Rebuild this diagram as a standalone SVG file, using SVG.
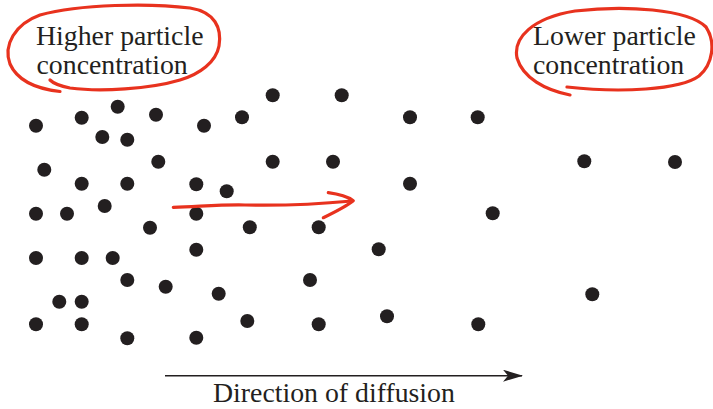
<svg xmlns="http://www.w3.org/2000/svg" width="713" height="409" viewBox="0 0 713 409">
<style>
.t{font-family:"Liberation Serif","Times New Roman",serif;font-size:27.8px;fill:#231f20}
.d{fill:#231f20}
.red{fill:none;stroke:#e8321e;stroke-width:3.2;stroke-linecap:round;stroke-linejoin:round}
</style>
<defs>
<marker id="ah" viewBox="0 0 20 12" refX="19" refY="6" markerWidth="20" markerHeight="12" markerUnits="userSpaceOnUse" orient="auto">
<path d="M0 0 L20 6 L0 12 L5 6 Z" fill="#231f20"/>
</marker>
</defs>
<rect width="713" height="409" fill="#fff"/>
<g id="label-high">
<text class="t" x="36" y="45">Higher particle</text>
<text class="t" x="36.5" y="74">concentration</text>
</g>
<g id="label-low">
<text class="t" x="533" y="45">Lower particle</text>
<text class="t" x="533" y="74">concentration</text>
</g>
<g id="label-direction">
<text class="t" x="213" y="402">Direction of diffusion</text>
</g>
<g id="particles" class="d">
<circle cx="36" cy="125.7" r="7"/>
<circle cx="81.7" cy="117.7" r="7"/>
<circle cx="117.7" cy="106.7" r="7"/>
<circle cx="156" cy="114.7" r="7"/>
<circle cx="204" cy="125.7" r="7"/>
<circle cx="242" cy="117.3" r="7"/>
<circle cx="102.3" cy="137" r="7"/>
<circle cx="127.3" cy="139.7" r="7"/>
<circle cx="44.3" cy="169.7" r="7"/>
<circle cx="158.3" cy="161.7" r="7"/>
<circle cx="81.7" cy="183.7" r="7"/>
<circle cx="127.3" cy="183.7" r="7"/>
<circle cx="196.3" cy="184.3" r="7"/>
<circle cx="226.7" cy="191.3" r="7"/>
<circle cx="36" cy="213.7" r="7"/>
<circle cx="67" cy="213.7" r="7"/>
<circle cx="104.7" cy="206" r="7"/>
<circle cx="196.3" cy="213.7" r="7"/>
<circle cx="150" cy="227.7" r="7"/>
<circle cx="249.8" cy="227.3" r="7"/>
<circle cx="36" cy="258" r="7"/>
<circle cx="81.7" cy="258" r="7"/>
<circle cx="112.7" cy="258" r="7"/>
<circle cx="196.3" cy="249.7" r="7"/>
<circle cx="127.3" cy="280" r="7"/>
<circle cx="165.7" cy="286.7" r="7"/>
<circle cx="218.7" cy="293.7" r="7"/>
<circle cx="59.3" cy="301.7" r="7"/>
<circle cx="81.7" cy="301.7" r="7"/>
<circle cx="36" cy="324.3" r="7"/>
<circle cx="81.7" cy="324.3" r="7"/>
<circle cx="127.3" cy="338.3" r="7"/>
<circle cx="196.3" cy="337.7" r="7"/>
<circle cx="247.3" cy="321" r="7"/>
<circle cx="272.7" cy="95.3" r="7"/>
<circle cx="341.7" cy="95.3" r="7"/>
<circle cx="410" cy="117.3" r="7"/>
<circle cx="477.7" cy="117.3" r="7"/>
<circle cx="272.7" cy="161.7" r="7"/>
<circle cx="333" cy="161.7" r="7"/>
<circle cx="410" cy="183.7" r="7"/>
<circle cx="492.7" cy="213.3" r="7"/>
<circle cx="318.7" cy="227.3" r="7"/>
<circle cx="378.7" cy="249.3" r="7"/>
<circle cx="310" cy="280" r="7"/>
<circle cx="318.7" cy="324.3" r="7"/>
<circle cx="387" cy="316.3" r="7"/>
<circle cx="478.3" cy="324.3" r="7"/>
<circle cx="584.3" cy="161.3" r="7"/>
<circle cx="675" cy="162" r="7"/>
<circle cx="592.3" cy="294.3" r="7"/>
</g>
<g id="connectors">
<line x1="165" y1="375.7" x2="522" y2="375.7" stroke="#231f20" stroke-width="1.6" marker-end="url(#ah)"/>
</g>
<g id="annotations">
<path class="red" d="M60 91.5 C38 89 18 82 10 64 C3 45 15 24 40 15 C80 4 150 3 190 8 C215 12 222 28 219 46 C216 62 200 74 180 80 C150 89 100 92 70 88 C60 86 54 84 50 80"/>
<path class="red" d="M570 95 C545 90 523 78 517 58 C513 38 532 18 575 11 C625 5 688 9 706 27 C716 42 713 64 699 76 C680 90 620 93 567 87"/>
<path class="red" d="M173.3 207.3 C200 206.5 220 204.5 245 205 C290 206 320 204 352 201"/>
<path class="red" d="M328.3 192.7 C338 194 348 197 353.3 200.7 C348 205 337 211 323.3 217.7"/>
</g>
</svg>
